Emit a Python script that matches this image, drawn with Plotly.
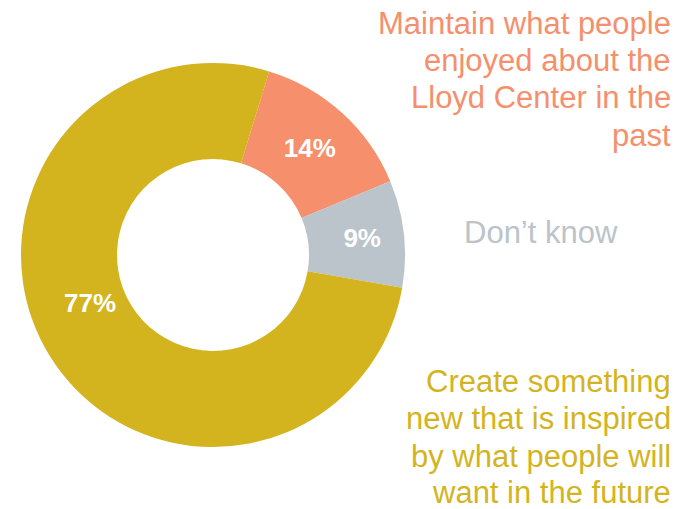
import plotly.graph_objects as go

labels = ["Maintain what people enjoyed about the Lloyd Center in the past", "Don’t know",
          "Create something new that is inspired by what people will want in the future"]
values = [14, 9, 77]
pct_text = ["14%", "9%", ""]
big_label = "77%"
colors = ["#F58F6C", "#BAC4CA", "#D4B41E"]
maintain_lines = ["Maintain what people", "enjoyed about the", "Lloyd Center in the", "past"]
create_lines = ["Create something", "new that is inspired", "by what people will", "want in the future"]
dk_text = "Don’t know"

W, H = 691, 509


def px(x):
    return x / W


def py(y):
    return 1 - y / H


fig = go.Figure(go.Pie(
    labels=labels, values=values, text=pct_text, textinfo="text",
    sort=False, direction="clockwise", rotation=17, hole=0.5,
    marker=dict(colors=colors, line=dict(color="white", width=0)),
    textposition="inside", insidetextorientation="horizontal",
    textfont=dict(family="Liberation Sans", size=26, color="white", weight="bold"),
    domain=dict(x=[px(21), px(405)], y=[py(447), py(63)]),
    showlegend=False, hoverinfo="label+percent",
))

font = "Liberation Sans"
FS = 31
fig.add_annotation(text=big_label, x=px(90), y=py(303), xref="paper", yref="paper",
                   xanchor="center", yanchor="middle", showarrow=False,
                   font=dict(family=font, size=26, color="white", weight="bold"))

maintain_base = [34, 71.5, 109, 146.5]
for line, b in zip(maintain_lines, maintain_base):
    fig.add_annotation(text=line, x=px(673), y=py(b - 11), xref="paper", yref="paper",
                       xanchor="right", yanchor="middle", showarrow=False,
                       font=dict(family=font, size=FS, color=colors[0]))

create_base = [392, 429.5, 467, 503.5]
for line, b in zip(create_lines, create_base):
    fig.add_annotation(text=line, x=px(673), y=py(b - 11), xref="paper", yref="paper",
                       xanchor="right", yanchor="middle", showarrow=False,
                       font=dict(family=font, size=FS, color=colors[2]))

fig.add_annotation(text=dk_text, x=px(541), y=py(233), xref="paper", yref="paper",
                   xanchor="center", yanchor="middle", showarrow=False,
                   font=dict(family=font, size=FS, color=colors[1]))

fig.update_layout(width=W, height=H, margin=dict(l=0, r=0, t=0, b=0),
                  paper_bgcolor="white", plot_bgcolor="white")
fig.write_html("out.html", config={"displayModeBar": False},
               post_script="document.body.style.margin='0';document.body.style.overflow='hidden';")
